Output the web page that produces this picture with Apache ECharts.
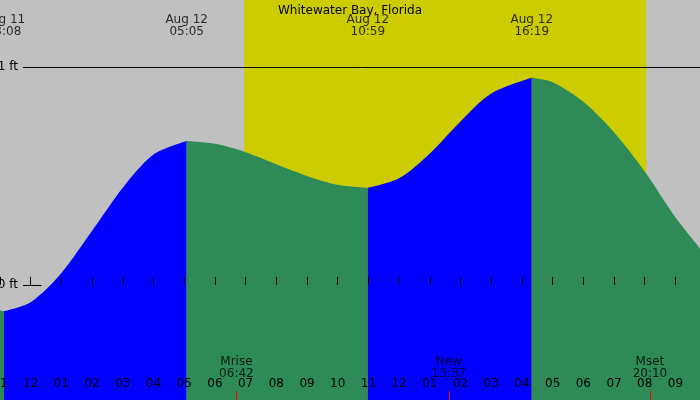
<!DOCTYPE html>
<html><head><meta charset="utf-8">
<script src="https://cdn.jsdelivr.net/npm/echarts@6/dist/echarts.min.js"></script>
<style>html,body{margin:0;padding:0;background:#c0c0c0}#c{width:700px;height:400px}</style>
</head><body><div id="c"></div>
<script>
const title = 'Whitewater Bay, Florida';
// tide heights (ft) vs hours from midnight Aug 12
const fall0 = [[-1,-0.117],[-0.87,-0.12]];
const rise1 = [[-0.87,-0.12],[0,-0.079],[1,0.055],[2,0.248],[3,0.446],[4,0.598],[5.08,0.66]];
const fall1 = [[5.08,0.66],[6,0.647],[7,0.609],[8,0.554],[9,0.5],[10,0.459],[10.98,0.445]];
const rise2 = [[10.98,0.445],[12,0.489],[13,0.603],[14,0.75],[15,0.878],[16.32,0.95]];
const fall2 = [[16.32,0.95],[17,0.93],[18,0.84],[19,0.7],[20,0.52],[21,0.31],[21.9,0.15]];
const extremes = [[-0.87,'Aug 11\n23:08'],[5.08,'Aug 12\n05:05'],[10.98,'Aug 12\n10:59'],[16.32,'Aug 12\n16:19']];
const moon = [[6.7,'Mrise\n06:42'],[13.62,'New\n13:37'],[20.17,'Mset\n20:10']];
const daylight = [6.95, 20.05];
const hourLabels = ['11','12','01','02','03','04','05','06','07','08','09','10','11','12','01','02','03','04','05','06','07','08','09'];

const XMIN=-1, XMAX=21.8, YMIN=-0.528, YMAX=1.307;
const font = 'DejaVu Sans';
function area(data,color){return {type:'line',data,symbol:'none',smooth:0.3,lineStyle:{width:0},areaStyle:{color,opacity:1,origin:'start'},z:3};}
const chart = echarts.init(document.getElementById('c'));
chart.setOption({
  animation:false, backgroundColor:'#c0c0c0',
  textStyle:{fontFamily:font,color:'#000'},
  title:{text:title,left:'center',top:0,textStyle:{fontSize:12,fontWeight:'normal',color:'#000',fontFamily:font}},
  grid:{left:0,right:0,top:0,bottom:0,containLabel:false,outerBoundsMode:'none'},
  xAxis:{type:'value',min:XMIN,max:XMAX,interval:1,splitLine:{show:false},z:10,
    axisLine:{show:false},axisTick:{inside:true,length:8,lineStyle:{color:'#000'}},
    axisLabel:{inside:true,margin:10,fontSize:12,color:'#000',showMinLabel:true,showMaxLabel:false,hideOverlap:false,
      formatter:v=>hourLabels[Math.round(v-XMIN)]||''}},
  yAxis:{type:'value',min:YMIN,max:YMAX,show:false,splitLine:{show:false}},
  series:[
    {type:'line',data:[],markArea:{silent:true,itemStyle:{color:'#cccc00'},data:[[{xAxis:daylight[0]},{xAxis:daylight[1]}]]},z:1},
    area(fall0,'#2e8b57'),area(rise1,'#0000ff'),area(fall1,'#2e8b57'),area(rise2,'#0000ff'),area(fall2,'#2e8b57'),
    {type:'line',data:[],z:5,markLine:{silent:true,symbol:'none',lineStyle:{color:'#000',width:1,type:'solid'},
      label:{position:'start',color:'#000',fontSize:12,fontFamily:font},
      data:[[{coord:[-0.25,1],label:{formatter:'1 ft'}},{coord:[XMAX,1]}],
            [{coord:[-0.25,0],label:{formatter:'0 ft'}},{coord:[0.35,0]}]]}},
    {type:'line',data:[],z:5,markLine:{silent:true,symbol:'none',label:{show:false},lineStyle:{color:'#ff0000',width:1,type:'solid'},
      data:moon.map(m=>[{coord:[m[0],YMIN+0.04]},{coord:[m[0],YMIN]}])}},
    {type:'scatter',symbolSize:0,z:6,data:extremes.map(e=>({value:[e[0],1.19],label:{formatter:e[1]}})),
      label:{show:true,position:'inside',color:'#000',fontSize:12,lineHeight:12,fontFamily:font}},
    {type:'scatter',symbolSize:0,z:6,data:moon.map(e=>({value:[e[0],-0.38],label:{formatter:e[1]}})),
      label:{show:true,position:'inside',color:'#000',fontSize:12,lineHeight:12,fontFamily:font}}
  ]
});
</script></body></html>
